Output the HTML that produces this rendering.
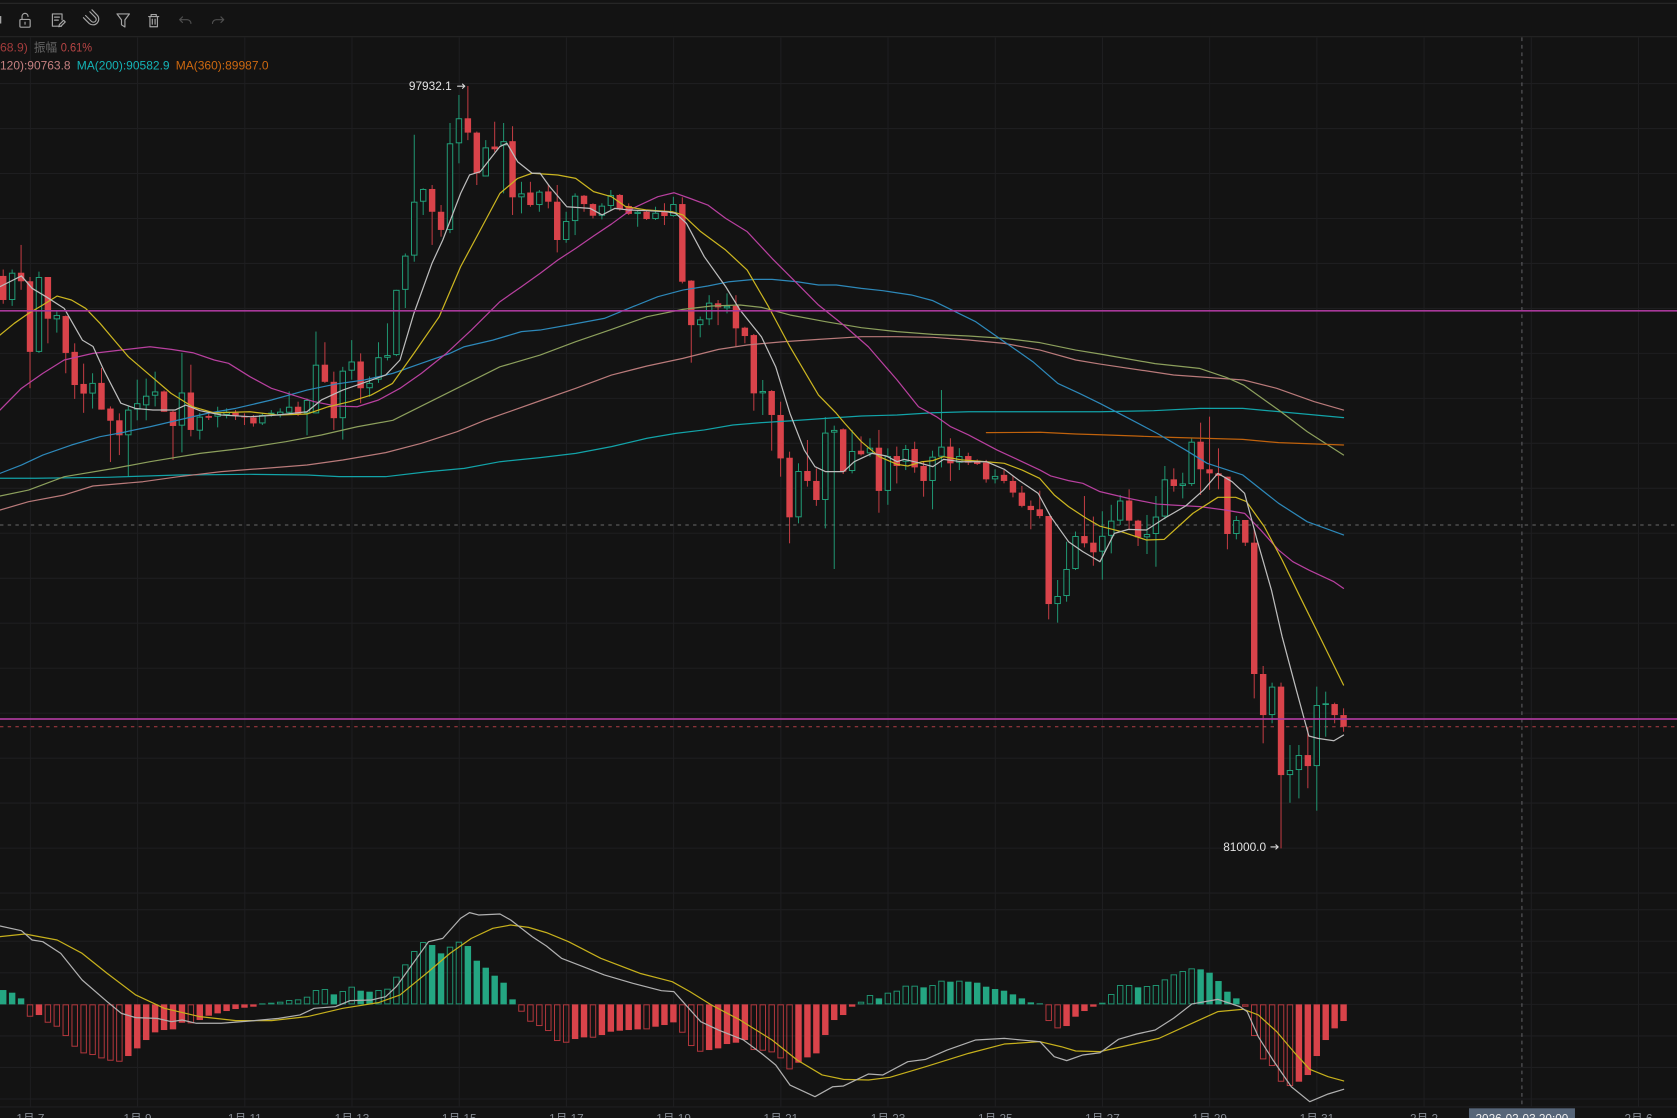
<!DOCTYPE html>
<html><head><meta charset="utf-8">
<style>
html,body{margin:0;padding:0;background:#131313;overflow:hidden;width:1677px;height:1118px;}
svg{display:block;}
text{font-family:"Liberation Sans","Noto Sans CJK SC",sans-serif;}
</style></head><body>
<svg id="s" width="1677" height="1118" viewBox="0 0 1568 1045.35" preserveAspectRatio="none" xmlns="http://www.w3.org/2000/svg">
<rect x="0" y="0" width="1568" height="1045.35" fill="#131313"/>
<!-- toolbar -->
<line x1="0" x2="1568" y1="3.1" y2="3.1" stroke="#2a2a2a" stroke-width="1"/>
<line x1="0" x2="1568" y1="34.3" y2="34.3" stroke="#242424" stroke-width="1"/>
<g fill="none" stroke="#a4a4a4" stroke-width="1.1" stroke-linecap="round" stroke-linejoin="round">
  <rect x="-1" y="15" width="2.2" height="7" fill="#a4a4a4" stroke="none"/>
  <!-- unlock -->
  <rect x="18.6" y="18.2" width="9.6" height="7.2" rx="1"/>
  <path d="M20.6 18.2 V15.3 a2.8 2.8 0 0 1 5.6 0"/>
  <line x1="23.4" y1="20.8" x2="23.4" y2="22.6"/>
  <!-- doc edit -->
  <path d="M57.5 24.5 H49 V13 H58 V18.5"/>
  <line x1="51" y1="16" x2="55.5" y2="16"/>
  <line x1="51" y1="18.8" x2="54.5" y2="18.8"/>
  <path d="M55 25 L55.5 23 L59.5 19 L61 20.5 L57 24.5 Z"/>
  <!-- magnet -->
  <path d="M80 14.5 L85.5 20 a2.6 2.6 0 0 0 3.7 -3.7 L84 11 M78 16.5 L83.5 22 a5.4 5.4 0 0 0 7.6 -7.6 L86 9.2"/>
  <!-- funnel -->
  <path d="M109.4 13 H121 L116.8 18.6 V25.2 L113.6 23.2 V18.6 Z"/>
  <!-- trash -->
  <path d="M139 15.5 H148.4 M141.3 15.5 V13.6 H146.1 V15.5 M140.2 15.5 V25 H147.2 V15.5"/>
  <line x1="142.4" y1="18" x2="142.4" y2="22.6"/>
  <line x1="145" y1="18" x2="145" y2="22.6"/>
</g>
<g fill="none" stroke="#4e4e4e" stroke-width="1.1" stroke-linecap="round" stroke-linejoin="round">
  <path d="M170.6 15.8 L168 18.4 L170.6 21 M168 18.4 H175 a3.5 3.5 0 0 1 3.5 3.5"/>
  <path d="M206.6 15.8 L209.2 18.4 L206.6 21 M209.2 18.4 H202.2 a3.5 3.5 0 0 0 -3.5 3.5"/>
</g>
<!-- grid -->
<g stroke="#1e1e20" stroke-width="1">
  <line x1="0" x2="1568" y1="78.1" y2="78.1"/><line x1="0" x2="1568" y1="120.2" y2="120.2"/>
  <line x1="0" x2="1568" y1="162.2" y2="162.2"/><line x1="0" x2="1568" y1="204.3" y2="204.3"/>
  <line x1="0" x2="1568" y1="246.3" y2="246.3"/><line x1="0" x2="1568" y1="288.4" y2="288.4"/>
  <line x1="0" x2="1568" y1="330.4" y2="330.4"/><line x1="0" x2="1568" y1="372.5" y2="372.5"/>
  <line x1="0" x2="1568" y1="414.5" y2="414.5"/><line x1="0" x2="1568" y1="456.6" y2="456.6"/>
  <line x1="0" x2="1568" y1="498.6" y2="498.6"/><line x1="0" x2="1568" y1="540.7" y2="540.7"/>
  <line x1="0" x2="1568" y1="582.7" y2="582.7"/><line x1="0" x2="1568" y1="624.8" y2="624.8"/>
  <line x1="0" x2="1568" y1="666.8" y2="666.8"/><line x1="0" x2="1568" y1="708.9" y2="708.9"/>
  <line x1="0" x2="1568" y1="750.9" y2="750.9"/><line x1="0" x2="1568" y1="793" y2="793"/>
  <line x1="0" x2="1568" y1="835" y2="835"/>
  <line x1="0" x2="1568" y1="850.6" y2="850.6"/><line x1="0" x2="1568" y1="880.1" y2="880.1"/>
  <line x1="0" x2="1568" y1="909.6" y2="909.6"/><line x1="0" x2="1568" y1="939.1" y2="939.1"/>
  <line x1="0" x2="1568" y1="968.6" y2="968.6"/><line x1="0" x2="1568" y1="998.1" y2="998.1"/>
  <line x1="0" x2="1568" y1="1027.6" y2="1027.6"/><line x1="0" x2="1568" y1="1035" y2="1035"/>
  <line x1="28.4" x2="28.4" y1="35" y2="1035"/><line x1="128.6" x2="128.6" y1="35" y2="1035"/>
  <line x1="228.9" x2="228.9" y1="35" y2="1035"/><line x1="329.1" x2="329.1" y1="35" y2="1035"/>
  <line x1="429.4" x2="429.4" y1="35" y2="1035"/><line x1="529.6" x2="529.6" y1="35" y2="1035"/>
  <line x1="629.8" x2="629.8" y1="35" y2="1035"/><line x1="730.1" x2="730.1" y1="35" y2="1035"/>
  <line x1="830.3" x2="830.3" y1="35" y2="1035"/><line x1="930.6" x2="930.6" y1="35" y2="1035"/>
  <line x1="1030.8" x2="1030.8" y1="35" y2="1035"/><line x1="1131" x2="1131" y1="35" y2="1035"/>
  <line x1="1231.3" x2="1231.3" y1="35" y2="1035"/><line x1="1331.5" x2="1331.5" y1="35" y2="1035"/>
  <line x1="1431.8" x2="1431.8" y1="35" y2="1035"/><line x1="1532" x2="1532" y1="35" y2="1035"/>
</g>
<!-- dashed lines -->
<line x1="0" x2="1568" y1="490.9" y2="490.9" stroke="#6a6a6a" stroke-width="1" stroke-dasharray="3.2 4"/>
<line x1="1423" x2="1423" y1="35" y2="1036" stroke="#5e5e62" stroke-width="1" stroke-dasharray="3.5 3.5"/>
<line x1="0" x2="1568" y1="679.5" y2="679.5" stroke="#b23e44" stroke-width="1" stroke-dasharray="3.2 4"/>
<!-- histogram & candles -->
<g id="hist"></g>
<g id="candles"></g>
<!-- MA lines -->
<g fill="none" stroke-width="1.15" stroke-linejoin="round" stroke-linecap="round">
<polyline stroke="#12a3a8" points="0,447.2 33.4,447.2 100.2,446.3 167,444.1 233.7,443.5 287.1,444.1 317.2,445.7 360.6,445.7 400.7,441 434.1,437.9 467.5,431.7 505,427.9 538.3,423.9 571.7,417.6 605,409.8 631.8,405.2 658.5,402 685.2,397.4 711.9,395.2 738.6,393.5 772,391.2 805.4,389 838.8,388 872.2,385.9 905.6,385 972.4,385 1028.5,385 1078.6,384 1122,381.8 1162,381.8 1195.5,384.9 1256.2,390.5"/>
<polyline stroke="#b97a7a" points="0,476.9 26.7,469.1 60.1,462.8 86.8,454.4 133.6,450.4 167,445.7 207,441 247.1,437.9 287.1,434.8 320.5,430.1 360.6,423.2 394,414.5 427.4,403.6 454.1,392.7 467.4,388 505,374.7 538.3,363.1 571.7,350.7 605,342.2 638.5,335.1 671.9,326.7 698.6,322.6 732,319.5 765.3,317.3 805.4,314.8 838.8,314.8 872.2,315.4 905.6,317.9 939,321.1 972.4,327.3 1005.8,336.6 1028.5,340.4 1097.3,350.6 1162.7,355.3 1193.7,363.1 1228.9,375.6 1256.2,383.4"/>
<polyline stroke="#8c9f5c" points="0,463.8 26.7,458.2 60.1,445.7 106.8,437.9 140.2,431.7 187,423.9 227,419.2 267.1,413 300.5,406.7 334,399 367.3,393 417.4,368 467.4,343 505,332 538.3,319.5 571.7,308 605,296.1 638.5,289.3 665.2,286.1 691.9,285.2 712,287.4 738.6,294.5 772,300.8 805.4,306.4 838.8,310.1 872.2,312.6 905.6,314.2 939,316.4 972.4,320.4 1005.8,327.3 1028.5,331 1080,340 1121.4,344.4 1147,353 1162.7,360 1195.5,383.4 1222.2,403.6 1256.2,425.4"/>
<polyline stroke="#c0620c" points="922.3,404.5 972.4,404.2 1005.8,405.8 1028.5,406.5 1061.9,407.7 1095.3,409 1128.7,409.9 1162,410.8 1195.5,413.9 1256.2,416.1"/>
<polyline stroke="#2d88b9" points="0,442.6 20,434.8 40,425.5 66.8,416.1 93.5,408.3 113.5,404.6 140.2,399 167,392.7 193.7,386.5 220.4,381.8 253.8,374 287.1,364.7 313.9,359.1 340.6,355.3 367.3,349.1 394,339.7 420.7,330.4 434.1,324.2 460.8,318 487.5,310.1 505,308.6 531.6,303.9 565,297.7 591.7,286.8 615.1,277.4 638.5,271.2 661.8,267.4 681.9,263.4 705.2,261.2 721.9,261.2 745.3,263.4 765.3,266.5 782,266.5 805.4,269.6 825.5,271.8 852.2,275.8 872.2,281.1 888.9,289.3 912.3,300.8 939,319.5 965.7,338.2 989.1,358.5 1009.1,367.8 1028.5,377.2 1055.2,391.1 1081.9,405.2 1108.6,420.8 1128.7,433.2 1162,444.1 1195.5,470.6 1222.2,487.8 1256.2,500.2"/>
<polyline stroke="#b8409f" points="0,383.4 20,363.1 40,349.1 60,336.6 86.8,330.4 113.5,327.3 140.2,324.2 160.3,326.7 180.3,329.8 200.3,336.6 213.7,339.7 233.7,352.2 253.8,363.1 273.8,369.4 293.8,375.6 313.9,379.6 333.9,380.3 353.9,374 374,363.1 394,349.1 417.4,330.4 440.7,308.6 467.4,282.1 487.5,268.1 505,255.6 521.6,243.1 538.3,232.2 555,220.7 571.7,209.5 591.7,194.8 615.1,183.9 630.1,180.2 645.1,185.5 661.8,191.7 678.5,204.2 698.6,216.6 721.9,241.6 742,261.8 765.3,285.2 788.7,303.9 811.9,324.2 838.8,355.3 858.8,380.3 875.5,389.6 888.9,399 905.6,406.7 932.3,420.8 949,428.5 972.4,439.5 982.4,445 999.1,449.4 1012.4,451.9 1028.5,459.7 1055.2,466 1081.9,471.3 1095.3,472.2 1122,473.7 1145.4,476.9 1163.7,480 1178.8,495.6 1195.5,514.3 1208.8,525.2 1223.8,533 1247.2,543.9 1256.2,550.1"/>
<polyline stroke="#cbb520" points="0,313.3 13.4,302.3 26.7,293 40,285.2 53.4,276.8 66.8,280.5 80,288.3 93.5,302.3 106.8,318 120,333.5 140,350.7 160,367.8 180,380.3 200,386 233.7,385 260.4,388.1 287,387.1 307,380.3 327,375.6 347,369.4 367,358.5 387,330.4 410.7,296.1 430.7,249.3 447.4,218.2 467.4,180.8 484,166.8 497.5,162 521.6,163.6 538.3,166.8 555,179.2 571.7,183.9 585,193.2 605,196.4 628.5,198 638.5,201 655.2,216.6 678.5,233.8 698.6,252.5 718.6,286.8 738.6,324.2 765.3,369.4 782,386.5 790,396 805.4,413 822.1,427 838.8,434.2 848.8,435.7 862.2,431.7 872.2,430.7 882.2,427 898.9,430 922.3,431.7 939,433.2 955.7,439.5 972,447.2 985.7,462.8 999.1,473.7 1015.8,484.7 1028.5,492 1048.5,497.1 1071.9,504.9 1088.6,504.3 1115.3,480 1138.7,465 1155.4,465 1165.4,469 1182.1,492.4 1198.8,523.6 1215.5,557.9 1235.5,598.4 1256.2,640.5"/>
<polyline stroke="#bdbdbd" points="0,268 20,258 30,269.6 43,277.4 60,288.3 77,318 87,324 97,346 113,377 127,382 143,383.4 163.6,383.4 173.6,378.7 187,384 207,388 234,389.6 260,388 287,385 300.5,374 320.5,364.7 334,360 360.6,350.7 374,336.6 387,293 404,246 414,224.4 430.7,180.8 439,163.6 449,160.5 467.4,137 474,134 484,151.2 497.5,162 505,162 514,174.5 530,193.3 551.6,194.8 563,201 575,194.8 588,196.4 605,197 623.4,198 631.8,199.5 641.8,208.8 658.5,240 678.5,268 692,290 712,315 725.3,343 738.6,386.5 752,420.8 762,436.4 772,441 788.7,441 798.7,431.7 815.4,423.9 828.8,426.4 838.8,431.7 845.5,429.5 858.8,432.6 872.2,436.3 882.2,429.5 898.9,431.7 922.3,431.7 939,438.8 952.3,448.8 970.7,461.3 982.4,483 999.1,506.5 1012.4,515.8 1028.5,525.2 1041.9,498.7 1055.2,495 1071.9,495.6 1088.6,484.7 1108.6,473.1 1125.3,458.2 1138.7,442.6 1152,450.4 1163.7,461.3 1175.4,504.9 1188.8,551.7 1198.8,595.3 1212.1,645.2 1223.8,688.2 1232.2,690.4 1247.2,692.6 1256.2,687.3"/>
<!-- MACD lines -->
<polyline stroke="#c6b01c" points="0,875.8 23.4,873.3 53.4,878.9 76.8,891.4 100.2,910.1 126.9,930.3 153.6,942.8 187,950.6 220.4,954.3 253.8,954.3 287.2,950.6 320.5,942.8 353.9,937.5 374,930.3 400.7,908.5 420.7,891.4 440.7,877.4 460.8,868 477.5,864.9 494.2,867.1 510.9,872 531.6,880.5 561.7,896 598.4,910.1 628.5,917.9 645.1,927.2 665.2,939.7 691.9,953.7 721.9,972.4 745.3,991.1 768.7,1005.1 788.7,1009.2 812.1,1009.8 832.1,1007.3 865.5,997.4 905.6,984.9 939,976.2 972.4,974 992.4,978.7 1005.8,982.7 1028.5,983.3 1056,977.1 1083.6,970.9 1107.6,960 1138.6,945.9 1162.7,943.7 1176.5,949 1193.7,964.6 1210.9,984.9 1224.6,999.8 1241.8,1006.7 1256.3,1010.7"/>
<polyline stroke="#b0b0b0" points="0,865.8 20,870.2 30,878.9 40,880.5 56.8,891.4 76.8,916.3 100.2,936.6 113.5,947.5 126.9,951.5 146.9,952.2 160.3,955.3 170.3,953.7 183.6,956.8 207,956.8 233.7,954.7 260.4,952.2 280.5,949 293.8,942.8 313.9,941.2 327.2,935.6 347.3,935 360.6,931.9 370.6,922.5 384,903.8 400.7,880.5 414,877.4 430.7,858.6 439,853.3 447.4,855.5 467.5,854.6 477.5,860.2 497.5,875.8 510.9,884.5 525,896 545,903.8 565,911.6 591.7,919.4 618.4,926.3 630.1,927.2 638.5,936.6 655.2,955.3 671.9,963.1 695.2,972.4 711.9,984.9 725.3,995.8 738.6,1014.5 762,1025.4 778.7,1016.1 788.7,1015.4 812.1,1004.2 825.5,1005.1 848.8,992.7 865.5,990.5 885.5,981.8 912.3,972.4 939,970.9 972.4,974 985.7,988 997.4,991.7 1012.4,986.4 1028.5,984.3 1045.7,971.8 1062.9,966.8 1080.1,963.1 1097.3,952.1 1114.5,938.7 1138.6,934.4 1159.3,941.2 1166.1,945.9 1176.5,969.3 1190.2,991.1 1207.4,1016.1 1224.6,1030.1 1241.8,1022.9 1256.3,1018.5"/>
</g>
<!-- horizontal magenta lines -->
<line x1="0" x2="1568" y1="290.6" y2="290.6" stroke="#a8399a" stroke-width="1.6"/>
<line x1="0" x2="1568" y1="672.3" y2="672.3" stroke="#a8399a" stroke-width="1.6"/>
<!-- info texts -->
<g font-size="11">
  <text x="0" y="48.3" fill="#a33c3c" textLength="26" lengthAdjust="spacingAndGlyphs">68.9)</text>
  <text x="31.7" y="48.3" fill="#666666" textLength="21.7" lengthAdjust="spacingAndGlyphs">振幅</text>
  <text x="56.8" y="48.3" fill="#b84545" textLength="29.3" lengthAdjust="spacingAndGlyphs">0.61%</text>
  <text x="0" y="64.8" fill="#c48080" textLength="66" lengthAdjust="spacingAndGlyphs">120):90763.8</text>
  <text x="71.8" y="64.8" fill="#14b3b6" textLength="86.8" lengthAdjust="spacingAndGlyphs">MA(200):90582.9</text>
  <text x="164.3" y="64.8" fill="#cc6810" textLength="86.8" lengthAdjust="spacingAndGlyphs">MA(360):89987.0</text>
  <text x="382.3" y="84.3" fill="#e2e2e2" textLength="40.1" lengthAdjust="spacingAndGlyphs">97932.1</text>
  <text x="1143.7" y="795.6" fill="#e2e2e2" textLength="40.1" lengthAdjust="spacingAndGlyphs">81000.0</text>
</g>
<g fill="none" stroke="#d8d8d8" stroke-width="1" stroke-linecap="round" stroke-linejoin="round">
  <path d="M427.8 80.6 H434.6 M432.4 78.6 L434.6 80.6 L432.4 82.6"/>
  <path d="M1188.3 791.9 H1195.1 M1192.9 789.9 L1195.1 791.9 L1192.9 793.9"/>
</g>
<!-- x axis labels -->
<g font-size="11" fill="#868b93" text-anchor="middle">
  <text x="28.4" y="1049.5">1月 7</text>
  <text x="128.6" y="1049.5">1月 9</text>
  <text x="228.9" y="1049.5">1月 11</text>
  <text x="329.1" y="1049.5">1月 13</text>
  <text x="429.4" y="1049.5">1月 15</text>
  <text x="529.6" y="1049.5">1月 17</text>
  <text x="629.8" y="1049.5">1月 19</text>
  <text x="730.1" y="1049.5">1月 21</text>
  <text x="830.3" y="1049.5">1月 23</text>
  <text x="930.6" y="1049.5">1月 25</text>
  <text x="1030.8" y="1049.5">1月 27</text>
  <text x="1131" y="1049.5">1月 29</text>
  <text x="1231.3" y="1049.5">1月 31</text>
  <text x="1331.5" y="1049.5">2月 2</text>
  <text x="1532" y="1049.5">2月 6</text>
</g>
<rect x="1373.5" y="1036.3" width="99.1" height="12" fill="#566578"/>
<text x="1423" y="1049.5" font-size="11" fill="#eeeeee" text-anchor="middle">2026-02-03 20:00</text>
</svg>
<script>
(function(){
var NS='http://www.w3.org/2000/svg';
function el(parent,tag,attrs){var e=document.createElementNS(NS,tag);for(var k in attrs){e.setAttribute(k,attrs[k]);}parent.appendChild(e);return e;}
var C=[
['r',258,280.5,252,284],['g',255,280.5,252,286],['r',255,263,229,271],['r',263,329,259,363],['g',259,329,254,330],
['r',259,298,259,321],['g',294.5,298.6,290,311],['r',295.5,330,295,349],['r',329,360,321,373],['r',359,368,340,386],
['g',358,368,349,382],['r',358,383,344,383],['r',382,393.4,380,432],['r',393,407,386.5,425.5],['g',383,407,380,446],
['g',377,383,355,393],['g',370,379,354,393],['g',366,370,347.5,380],['r',366,385,365,385],['r',385,398.3,384,430],
['g',367,398,330,423],['r',367,402,341,408],['g',389.6,402.7,386,411],['r',389,390.6,386.5,392.7],['g',386.5,389.6,380.3,399.6],
['g',384.9,388,381.8,391.2],['r',385.9,389,383.4,392.7],['r',389,390.3,386.5,397.4],['r',390.3,395.9,388,398.9],['g',388,395.9,386.5,397.4],
['g',385.9,387.5,383.4,389.6],['g',384.9,388,381.8,390.3],['g',380.3,385.9,366,388],['r',380.3,387.2,375.6,389],['g',374,386.5,372.5,407],
['g',341,386.5,310,386.5],['r',341,357,320,358],['r',357,391,347.5,402],['g',346.6,391,343,411],['g',338,346.6,318,355],
['r',338,363,330.4,377],['g',358,363,352,371],['g',334,355,320,358],['g',332,334.5,302.3,337],['g',271,332,271,333],
['g',239,271,237,288],['g',188.6,239,126,244.7],['g',176.7,188.6,176,201],['r',176.7,198,173,229],['r',198,215,191.7,221.3],
['g',134,215,115,218],['g',110.6,134,88.8,152.7],['r',110.6,124,80.4,131],['r',124,162,123,173],['g',137.8,165,131,165],
['r',137,139.6,113.8,142],['g',132,136,115,180.8],['r',132,184.5,118,201],['g',180.8,184.5,170,199.5],['r',180,191.7,170,193.3],
['g',179.2,191.7,177.7,198],['r',179,188.6,173,194.8],['r',188.6,224.4,173,236],['g',206.7,224.4,198,227],['g',183,206.7,180.8,219.8],
['r',183,190.8,182.3,198],['r',190.8,201.7,190.1,204.2],['g',192.3,201.7,190.1,205.1],['g',182.3,192.6,177.7,196.4],['r',182.3,195.7,181.4,197],
['r',192.6,200,190.1,201],['g',198,200,196.4,212],['r',198,204.8,196.4,205.7],['g',198.9,204.8,193.3,205.7],['r',198,202,190,210.4],
['g',190.8,202,184,202.6],['r',190.8,263.4,184.5,265],['r',262.4,304,262,339.1],['g',298.6,304,296,315.4],['g',283,298.6,276,304],
['r',283.6,287.4,280.5,304],['g',286,288.3,274.3,293],['r',286,307,276,324],['r',306.4,314.2,305.5,321],['r',313.3,367.8,312.3,384],
['g',365.6,367.8,355.3,388],['r',365.6,388,364.7,421.4],['r',388,428.6,375.6,445.7],['r',428,483.7,422.3,508],['g',440.4,483.7,433.2,489.3],
['r',440.4,449.7,411.4,455],['r',449.7,467.5,438,473],['g',404.5,467.5,390,494],['g',402,404.5,398,532],['r',401.4,441,400.5,443.2],
['g',421.7,440.4,402,442.6],['r',421.4,424.8,408,426],['g',418.6,423.9,409.8,427],['r',418.6,459,402,479.4],['g',426.4,459,419.2,472],
['r',426.4,435.7,417.6,452],['g',419.8,431.7,416,439.5],['r',419.8,437,413,442],['r',435.7,449.7,431.7,464.4],['g',427,449.7,421.4,476.2],
['g',417.6,427,364.7,437],['r',417.6,433.2,409.8,449.7],['g',426.4,432.6,419,439.5],['r',426.4,432.6,423.3,434.8],['r',430.7,433.8,429.5,434.8],
['r',432.6,448.2,430,451.3],['g',445,448.2,438.8,452],['r',444,449.7,439.5,451.9],['r',449.7,460.6,445,465],['r',460.6,473,454.4,474.4],
['r',473,476.9,468,494.9],['r',476.2,482.5,458.8,484.7],['r',482.5,564.8,482.5,579.1],['g',557.3,564.8,542.3,582.2],['g',532,557.3,506.5,562.6],
['g',501.2,532,497,533],['r',501.2,508,463.8,511.8],['r',507.4,516.4,483,529],['g',501,515.8,478,542],['g',486.8,501,472,517.4],
['g',468,486.8,462.8,490.9],['r',468,486.8,457.5,495],['r',486.8,502.4,486,510.5],['g',499.3,502.4,481.5,518],['g',483,499.3,463.8,529.9],
['g',448.2,483,435.7,485.6],['r',448.2,454.4,437.9,459.7],['g',452,454.4,442,466],['g',413,452.6,409.8,454.4],['r',413,438.8,395.2,462.8],
['r',438.8,442.6,389.6,458],['r',442.6,445,419.2,457.5],['r',445.7,499.3,445.7,513.6],['g',486.2,499.3,482.5,504.3],['r',486.2,507.4,486.2,510.5],
['r',507.4,630.2,494,653],['r',630.2,668.6,622.7,695],['g',642,668.6,638.3,676.3],['r',642,724.7,638.3,793.2],['g',720,724.7,696.6,750.6],
['g',706,720,696.6,746.5],['r',706,716.3,679.5,737],['g',659.2,716.3,642,758],['g',657.6,659.2,646.7,688.8],['r',658.3,668.6,657,676.3],
['r',668.6,679.5,662.3,684.2]
];
var H=[43,35,18,-37,-32,-55,-67,-95,-127,-147,-152,-162,-169,-172,-155,-132,-107,-84,-77,-75,-55,-57,-47,-34,-27,-20,-14,-10,-7,3,5,8,13,15,23,43,46,30,40,53,41,38,43,47,83,120,160,187,178,153,173,188,175,131,110,86,65,15,-22,-52,-65,-80,-110,
-115,-104,-99,-100,-92,-82,-79,-77,-75,-75,-67,-62,-54,-85,-125,-142,-137,-132,-119,-115,-107,-137,-139,-144,-162,-195,-175,-159,-147,-92,-47,-32,-7,8,28,18,35,41,56,56,51,58,71,68,71,68,65,53,46,41,30,18,6,3,-50,-72,-65,-37,-20,-7,
5,31,58,58,51,55,58,75,90,100,108,105,95,70,38,18,-7,-95,-165,-185,-232,-245,-232,-212,-155,-107,-72,-50];
var cg=document.getElementById('candles');
for(var i=0;i<C.length;i++){
  var c=C[i],x=3+8.355*i,bt=c[1],bb=c[2],wt=c[3],wb=c[4];
  if(c[0]==='r'){
    el(cg,'line',{x1:x,x2:x,y1:wt,y2:wb,stroke:'#c23c43','stroke-width':0.95});
    el(cg,'rect',{x:x-3,y:bt,width:6,height:Math.max(bb-bt,0.9),fill:'#d9434a'});
  } else {
    el(cg,'line',{x1:x,x2:x,y1:wt,y2:wb,stroke:'#1f9470','stroke-width':0.95});
    el(cg,'rect',{x:x-2.55,y:bt+0.45,width:5.1,height:Math.max(bb-bt-0.9,0.1),fill:'#131313',stroke:'#22a27b','stroke-width':0.9});
  }
}
var hg=document.getElementById('hist');
var Z=939.1,K=0.3117;
for(var j=0;j<H.length;j++){
  var v=H[j],p=(j>0?H[j-1]:50),xx=3+8.355*j,h=Math.abs(v)*K;
  var hollow=(v>0)!==(p>0) ? (j>0) : Math.abs(v)>=Math.abs(p);
  if(j===0) hollow=false;
  var y=v>0?Z-h:Z;
  var green=v>0;
  if(hollow){
    el(hg,'rect',{x:xx-2.55,y:y+0.45,width:5.1,height:Math.max(h-0.9,0.2),fill:'none',stroke:green?'#1f9672':'#b8383e','stroke-width':0.9});
  } else {
    el(hg,'rect',{x:xx-3,y:y,width:6,height:Math.max(h,0.8),fill:green?'#24a682':'#d9434a'});
  }
}
})();
</script>
</body></html>
